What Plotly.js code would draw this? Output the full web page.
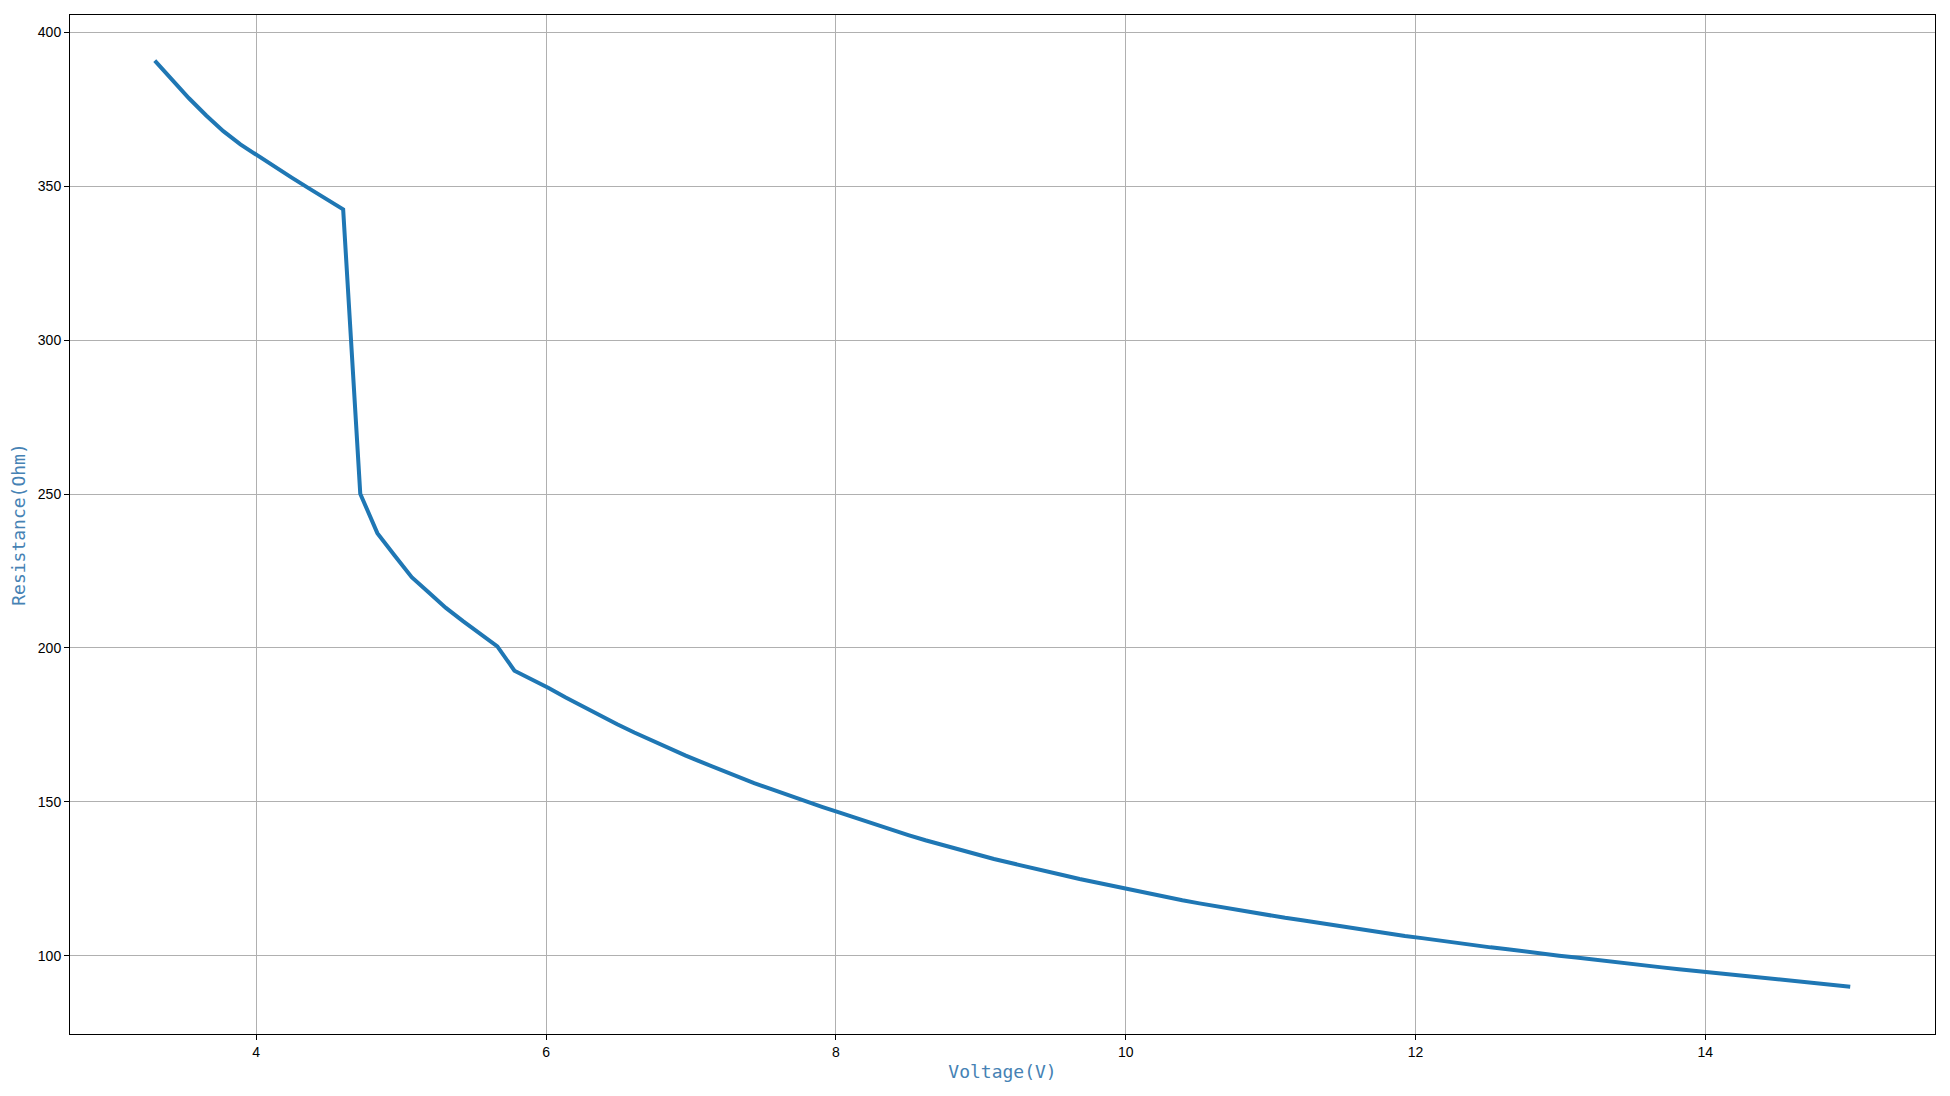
<!DOCTYPE html>
<html>
<head>
<meta charset="utf-8">
<script src="https://cdn.plot.ly/plotly-3.0.1.min.js"></script>
<style>html,body{margin:0;padding:0;background:#fff;}#chart{width:1950px;height:1096px;}</style>
</head>
<body>
<div id="chart"></div>
<script>
// Voltage (V) sample points
const voltage = [
  3.300, 3.418, 3.536, 3.655, 3.773, 3.891, 4.009, 4.127, 4.245, 4.364,
  4.482, 4.600, 4.718, 4.836, 4.955, 5.073, 5.191, 5.309, 5.427, 5.545,
  5.664, 5.782, 5.900, 6.018, 6.136, 6.255, 6.373, 6.491, 6.609, 6.727,
  6.845, 6.964, 7.082, 7.200, 7.318, 7.436, 7.555, 7.673, 7.791, 7.909,
  8.027, 8.145, 8.264, 8.382, 8.500, 8.618, 8.736, 8.855, 8.973, 9.091,
  9.209, 9.327, 9.445, 9.564, 9.682, 9.800, 9.918, 10.036, 10.155, 10.273,
  10.391, 10.509, 10.627, 10.745, 10.864, 10.982, 11.100, 11.218, 11.336, 11.455,
  11.573, 11.691, 11.809, 11.927, 12.045, 12.164, 12.282, 12.400, 12.518, 12.636,
  12.755, 12.873, 12.991, 13.109, 13.227, 13.345, 13.464, 13.582, 13.700, 13.818,
  13.936, 14.055, 14.173, 14.291, 14.409, 14.527, 14.645, 14.764, 14.882, 15.000
];
// Resistance (Ohm)
const resistance = [
  390.8, 384.5, 378.6, 373.0, 367.9, 363.6, 359.9, 356.3, 352.8, 349.3,
  345.9, 342.5, 250.1, 237.3, 230.0, 223.0, 218.0, 213.0, 208.7, 204.5,
  200.5, 192.6, 189.9, 187.0, 183.9, 180.9, 178.0, 175.2, 172.5, 169.9,
  167.4, 165.0, 162.7, 160.4, 158.2, 156.1, 154.1, 152.1, 150.1, 148.3,
  146.5, 144.6, 142.8, 141.0, 139.2, 137.5, 135.9, 134.3, 132.9, 131.4,
  130.1, 128.7, 127.4, 126.2, 124.9, 123.7, 122.5, 121.4, 120.2, 119.1,
  118.0, 117.0, 116.0, 115.1, 114.2, 113.2, 112.3, 111.5, 110.6, 109.7,
  108.9, 108.0, 107.3, 106.4, 105.7, 104.9, 104.2, 103.4, 102.7, 102.1,
  101.3, 100.7, 100.0, 99.4, 98.7, 98.1, 97.4, 96.8, 96.2, 95.6,
  95.0, 94.4, 93.8, 93.2, 92.7, 92.1, 91.6, 91.0, 90.5, 89.9
];
const xTitle = "Voltage(V)";
const yTitle = "Resistance(Ohm)";

const trace = {
  x: voltage, y: resistance, type: "scatter", mode: "lines",
  line: {color: "#1f77b4", width: 4}, hoverinfo: "x+y"
};

const axisCommon = {
  showline: true, mirror: true, linecolor: "#000", linewidth: 1,
  showgrid: true, gridcolor: "#b0b0b0", gridwidth: 1,
  zeroline: false, ticks: "outside", ticklen: 5, tickwidth: 1, tickcolor: "#000",
  tickfont: {family: "Liberation Sans, Arial, sans-serif", size: 14, color: "#000"},
  automargin: false
};

const layout = {
  width: 1950, height: 1096,
  margin: {l: 70, r: 15, t: 15, b: 62, pad: 0},
  paper_bgcolor: "#fff", plot_bgcolor: "#fff",
  showlegend: false,
  xaxis: Object.assign({}, axisCommon, {
    range: [2.715, 15.585], tick0: 0, dtick: 2,
    title: {text: xTitle, standoff: 6,
      font: {family: "DejaVu Sans Mono, monospace", size: 18, color: "#4682b4"}}
  }),
  yaxis: Object.assign({}, axisCommon, {
    range: [74.55, 405.65], tick0: 0, dtick: 50,
    title: {text: yTitle, standoff: 7,
      font: {family: "DejaVu Sans Mono, monospace", size: 18, color: "#4682b4"}}
  })
};

Plotly.newPlot("chart", [trace], layout, {displayModeBar: false});
</script>
</body>
</html>
